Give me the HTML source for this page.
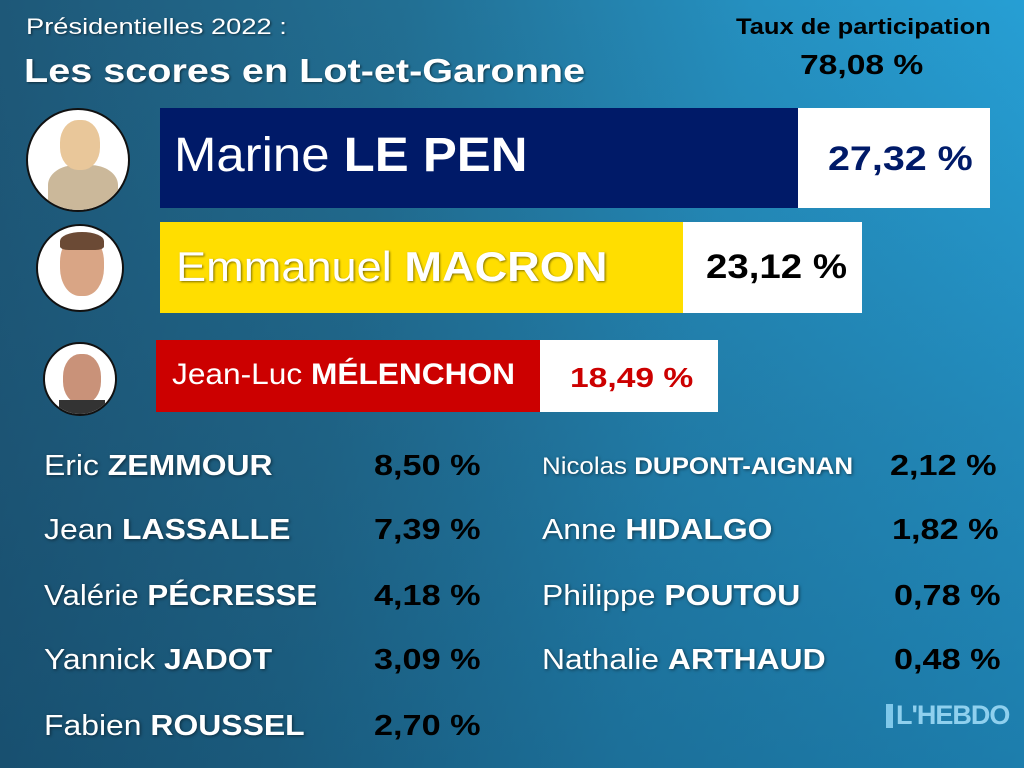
<!DOCTYPE html>
<html><head><meta charset="utf-8"><style>
body{margin:0;width:1024px;height:768px;overflow:hidden;font-family:"Liberation Sans",sans-serif;}
#bg{position:absolute;left:0;top:0;width:1024px;height:768px;background:linear-gradient(100deg,#1e5878 0%,#226f93 35%,#2590c0 65%,#27a6de 100%);}
#bg2{position:absolute;left:0;top:0;width:1024px;height:768px;background:linear-gradient(180deg,rgba(0,0,0,0) 0%,rgba(20,60,90,0.25) 55%,rgba(10,50,80,0.35) 100%);}
.t,.k,.row,.pc{transform-origin:0 50%;}
.t{position:absolute;color:#fff;white-space:nowrap;text-shadow:1px 1px 2px rgba(0,0,0,0.5);}
.k{position:absolute;color:#000;font-weight:bold;white-space:nowrap;}
.box{position:absolute;}
.c{position:absolute;border-radius:50%;background:#fff;border:2px solid #111;box-sizing:border-box;overflow:hidden;}
.row{position:absolute;font-size:29px;color:#fff;white-space:nowrap;text-shadow:1px 1px 3px rgba(0,0,0,0.5);transform:scaleX(1.1);}
.pc{position:absolute;font-size:29px;font-weight:bold;color:#000;white-space:nowrap;transform:scaleX(1.18);}
</style></head><body>
<div id="bg"></div><div id="bg2"></div>
<div class="t" style="left:26px;top:14px;font-size:22px;transform:scaleX(1.24);">Présidentielles 2022 :</div>
<div class="t" style="left:24px;top:52px;font-size:33px;font-weight:bold;transform:scaleX(1.2);">Les scores en Lot-et-Garonne</div>
<div class="k" style="left:736px;top:14px;font-size:22px;transform:scaleX(1.16);">Taux de participation</div>
<div class="k" style="left:800px;top:49px;font-size:28px;transform:scaleX(1.2);">78,08 %</div>

<div class="c" style="left:26px;top:108px;width:104px;height:104px;"><div style="position:absolute;left:20px;top:55px;width:70px;height:50px;background:#cbb89a;border-radius:40% 40% 0 0"></div><div style="position:absolute;left:32px;top:10px;width:40px;height:50px;background:#e9c79a;border-radius:45%"></div></div>
<div class="c" style="left:36px;top:224px;width:88px;height:88px;"><div style="position:absolute;left:22px;top:8px;width:44px;height:62px;background:#d9a585;border-radius:45%"></div><div style="position:absolute;left:22px;top:6px;width:44px;height:18px;background:#6b4a35;border-radius:50% 50% 20% 20%"></div></div>
<div class="c" style="left:43px;top:342px;width:74px;height:74px;"><div style="position:absolute;left:18px;top:10px;width:38px;height:50px;background:#c99279;border-radius:45%"></div><div style="position:absolute;left:14px;top:56px;width:46px;height:20px;background:#333;"></div></div>

<div class="box" style="left:160px;top:108px;width:638px;height:100px;background:#001a68;"></div>
<div class="box" style="left:798px;top:108px;width:192px;height:100px;background:#fff;"></div>
<div class="t" style="left:174px;top:128px;font-size:48px;text-shadow:none;transform:scaleX(1.06);">Marine <b>LE PEN</b></div>
<div class="k" style="left:828px;top:140px;font-size:34px;color:#001a68;transform:scaleX(1.16);">27,32 %</div>

<div class="box" style="left:160px;top:222px;width:523px;height:91px;background:#ffde00;"></div>
<div class="box" style="left:683px;top:222px;width:179px;height:91px;background:#fff;"></div>
<div class="t" style="left:176px;top:243px;font-size:42px;transform:scaleX(1.075);">Emmanuel <b>MACRON</b></div>
<div class="k" style="left:706px;top:248px;font-size:34px;transform:scaleX(1.13);">23,12 %</div>

<div class="box" style="left:156px;top:340px;width:384px;height:72px;background:#cc0000;"></div>
<div class="box" style="left:540px;top:340px;width:178px;height:72px;background:#fff;"></div>
<div class="t" style="left:172px;top:358px;font-size:30px;text-shadow:none;transform:scaleX(1.055);">Jean-Luc <b>MÉLENCHON</b></div>
<div class="k" style="left:570px;top:362px;font-size:28px;color:#cc0000;transform:scaleX(1.2);">18,49 %</div>

<div class="row" style="left:44px;top:450px;">Eric <b>ZEMMOUR</b></div><div class="pc" style="left:374px;top:450px;">8,50 %</div>
<div class="row" style="left:44px;top:514px;">Jean <b>LASSALLE</b></div><div class="pc" style="left:374px;top:514px;">7,39 %</div>
<div class="row" style="left:44px;top:580px;transform:scaleX(1.075);">Valérie <b>PÉCRESSE</b></div><div class="pc" style="left:374px;top:580px;">4,18 %</div>
<div class="row" style="left:44px;top:644px;">Yannick <b>JADOT</b></div><div class="pc" style="left:374px;top:644px;">3,09 %</div>
<div class="row" style="left:44px;top:710px;">Fabien <b>ROUSSEL</b></div><div class="pc" style="left:374px;top:710px;">2,70 %</div>

<div class="row" style="left:542px;top:453px;font-size:24px;transform:scaleX(1.08);">Nicolas <b>DUPONT-AIGNAN</b></div><div class="pc" style="left:890px;top:450px;">2,12 %</div>
<div class="row" style="left:542px;top:514px;">Anne <b>HIDALGO</b></div><div class="pc" style="left:892px;top:514px;">1,82 %</div>
<div class="row" style="left:542px;top:580px;">Philippe <b>POUTOU</b></div><div class="pc" style="left:894px;top:580px;">0,78 %</div>
<div class="row" style="left:542px;top:644px;">Nathalie <b>ARTHAUD</b></div><div class="pc" style="left:894px;top:644px;">0,48 %</div>

<div style="position:absolute;left:886px;top:704px;width:7px;height:24px;background:#7fc8ea;"></div>
<div style="position:absolute;left:896px;top:700px;font-size:27px;font-weight:bold;color:#8fd0ee;letter-spacing:-1px;">L'HEBDO</div>
</body></html>
